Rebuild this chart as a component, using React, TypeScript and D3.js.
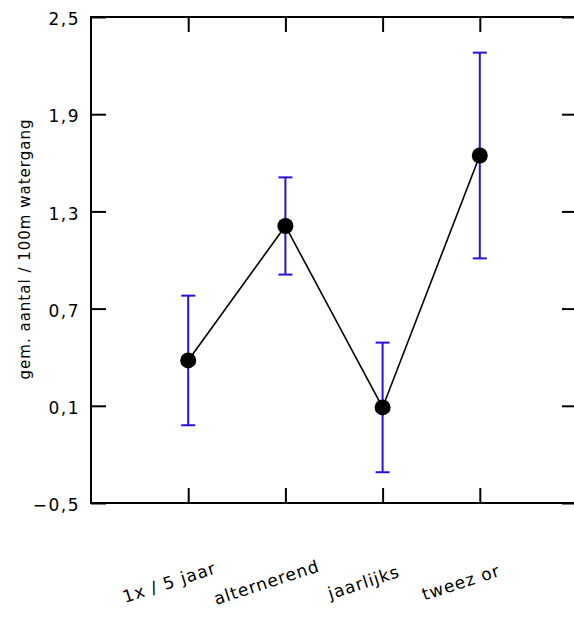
import { useRef, useEffect } from 'react';
import * as d3 from 'd3';

const categories = ["1x / 5 jaar", "alternerend", "jaarlijks", "tweez or"];
const means = [0.38, 1.21, 0.09, 1.645];
const errors = [0.40, 0.30, 0.40, 0.635];
const yTicks = [-0.5, 0.1, 0.7, 1.3, 1.9, 2.5];
const yLabel = "gem. aantal / 100m watergang";

const FONT = "'DejaVu Sans', Verdana, sans-serif";

function App() {
  const svgRef = useRef<SVGSVGElement>(null);

  useEffect(() => {
    document.body.style.margin = "0";
    const svg = d3.select(svgRef.current);
    svg.selectAll("*").remove();

    const W = 574, H = 621;
    const left = 91, top = 17, bottom = 503, right = 577;
    svg.attr("width", W).attr("height", H);

    const x = d3.scaleLinear().domain([0, categories.length + 1]).range([left, right]);
    const y = d3.scaleLinear().domain([-0.5, 2.5]).range([bottom, top]);
    const catPos = categories.map((_, i) => i + 1);

    const fmt = (d: number) => d3.format(".1f")(d).replace(".", ",");

    // Frame
    svg.append("rect")
      .attr("x", left).attr("y", top)
      .attr("width", right - left).attr("height", bottom - top)
      .attr("fill", "none").attr("stroke", "#000").attr("stroke-width", 2);

    // Left axis with labels, inward ticks
    const gl = svg.append("g").attr("transform", `translate(${left},0)`)
      .call(d3.axisLeft(y).tickValues(yTicks).tickSizeInner(-15).tickSizeOuter(0).tickPadding(11).tickFormat(fmt as any));
    gl.select(".domain").remove();
    gl.selectAll("line").attr("stroke", "#000").attr("stroke-width", 2);
    gl.selectAll("text")
      .attr("dy", "0.45em")
      .style("font-family", FONT).style("font-size", "17px")
      .style("letter-spacing", "1.5px").attr("fill", "#000");

    // Right axis ticks
    const gr = svg.append("g").attr("transform", `translate(${right},0)`)
      .call(d3.axisRight(y).tickValues(yTicks).tickSizeInner(-15).tickSizeOuter(0).tickFormat(() => ""));
    gr.select(".domain").remove();
    gr.selectAll("line").attr("stroke", "#000").attr("stroke-width", 2);

    // Top and bottom ticks
    const gt = svg.append("g").attr("transform", `translate(0,${top})`)
      .call(d3.axisTop(x).tickValues(catPos).tickSizeInner(-15).tickSizeOuter(0).tickFormat(() => ""));
    gt.select(".domain").remove();
    gt.selectAll("line").attr("stroke", "#000").attr("stroke-width", 2);

    const gb = svg.append("g").attr("transform", `translate(0,${bottom})`)
      .call(d3.axisBottom(x).tickValues(catPos).tickSizeInner(-15).tickSizeOuter(0).tickFormat(() => ""));
    gb.select(".domain").remove();
    gb.selectAll("line").attr("stroke", "#000").attr("stroke-width", 2);

    // X labels (rotated)
    svg.append("g").selectAll("text")
      .data(categories)
      .enter().append("text")
      .attr("transform", (d, i) => `translate(${x(catPos[i]) - 17},${588}) rotate(-18)`)
      .attr("text-anchor", "middle")
      .style("font-family", FONT).style("font-size", "17px")
      .style("letter-spacing", "1px")
      .text(d => d);

    // Y label
    svg.append("text")
      .attr("transform", `translate(30,${249}) rotate(-90)`)
      .attr("text-anchor", "middle")
      .style("font-family", FONT).style("font-size", "15px")
      .style("letter-spacing", "1px")
      .text(yLabel);

    // Connecting line
    const line = d3.line<number>()
      .x((d, i) => x(catPos[i]))
      .y(d => y(d));
    svg.append("path")
      .datum(means)
      .attr("d", line)
      .attr("fill", "none").attr("stroke", "#000").attr("stroke-width", 1.6);

    // Error bars
    const blue = "#2a0fe0";
    const eb = svg.append("g").selectAll("g").data(means).enter().append("g");
    eb.append("line")
      .attr("x1", (d, i) => x(catPos[i])).attr("x2", (d, i) => x(catPos[i]))
      .attr("y1", (d, i) => y(d + errors[i])).attr("y2", (d, i) => y(d - errors[i]))
      .attr("stroke", blue).attr("stroke-width", 2);
    eb.append("line")
      .attr("x1", (d, i) => x(catPos[i]) - 7).attr("x2", (d, i) => x(catPos[i]) + 7)
      .attr("y1", (d, i) => y(d + errors[i])).attr("y2", (d, i) => y(d + errors[i]))
      .attr("stroke", blue).attr("stroke-width", 2);
    eb.append("line")
      .attr("x1", (d, i) => x(catPos[i]) - 7).attr("x2", (d, i) => x(catPos[i]) + 7)
      .attr("y1", (d, i) => y(d - errors[i])).attr("y2", (d, i) => y(d - errors[i]))
      .attr("stroke", blue).attr("stroke-width", 2);

    // Points
    svg.append("g").selectAll("circle")
      .data(means)
      .enter().append("circle")
      .attr("cx", (d, i) => x(catPos[i]))
      .attr("cy", d => y(d))
      .attr("r", 8)
      .attr("fill", "#000");
  }, []);

  return <svg ref={svgRef} style={{ display: "block" }}></svg>;
}

export default App;
